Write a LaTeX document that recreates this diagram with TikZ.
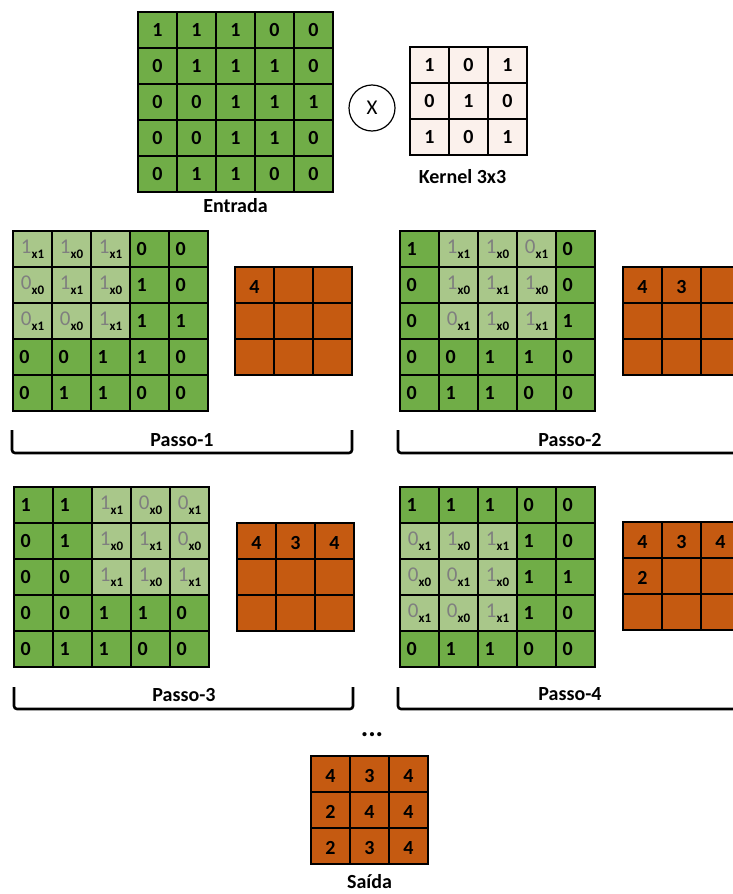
\documentclass[tikz,border=0pt]{standalone}
\usepackage{fontspec}
\setmainfont{Carlito}
\usetikzlibrary{positioning}

\definecolor{ingreen}{HTML}{70AD47}
\definecolor{wingreen}{HTML}{A9C78A}
\definecolor{outorange}{HTML}{C55A11}
\definecolor{kerfill}{HTML}{FBF1EC}
\definecolor{subgray}{HTML}{7F7F7F}

% values of the input, the kernel and the output
\def\entvals{{1,1,1,0,0, 0,1,1,1,0, 0,0,1,1,1, 0,0,1,1,0, 0,1,1,0,0}}
\def\kervals{{1,0,1, 0,1,0, 1,0,1}}
\def\saivals{{4,3,4, 2,4,4, 2,3,4}}

% value inside the 3x3 window, with its kernel weight
\newcommand{\winnum}[2]{\textcolor{subgray}{\mdseries\fontsize{21}{21}\selectfont #1}\raisebox{-5pt}{\bfseries\fontsize{13}{13}\selectfont x#2}}

% 5x5 input of one step: name, left, top, window row, window column
\newcommand{\passogrid}[5]{%
  \foreach \ri in {0,...,4}{
    \foreach \ci in {0,...,4}{
      \pgfmathtruncatemacro\idx{\ri*5+\ci}
      \pgfmathtruncatemacro\val{\entvals[\idx]}
      \pgfmathtruncatemacro\inw{(\ri>=#4)*(\ri<#4+3)*(\ci>=#5)*(\ci<#5+3)}
      \ifnum\inw=1
        \pgfmathtruncatemacro\kidx{(\ri-#4)*3+\ci-#5}
        \pgfmathtruncatemacro\kw{\kervals[\kidx]}
        \node[wincell] (#1-\ri-\ci) at (#2+\ci*39+19.5,#3+\ri*36+18) {\winnum{\val}{\kw}};
      \else
        \node[incell] (#1-\ri-\ci) at (#2+\ci*39+19.5,#3+\ri*36+18) {\val};
      \fi
    }
  }
}

% 3x3 output: name, left, top, number of values already computed
\newcommand{\saidagrid}[4]{%
  \foreach \ri in {0,1,2}{
    \foreach \ci in {0,1,2}{
      \pgfmathtruncatemacro\idx{\ri*3+\ci}
      \ifnum\idx<#4
        \pgfmathtruncatemacro\val{\saivals[\idx]}
      \else
        \def\val{}
      \fi
      \node[outcell] (#1-\ri-\ci) at (#2+\ci*39+19.5,#3+\ri*36+18) {\val};
    }
  }
}

\begin{document}
\begin{tikzpicture}[
    x=1pt, y=-1pt,
    cell/.style={draw,line width=1.4pt,minimum width=39pt,minimum height=36pt,inner sep=0pt,
      font=\bfseries\fontsize{20}{20}\selectfont},
    entcell/.style={cell,fill=ingreen},
    incell/.style={cell,fill=ingreen,text width=26pt,inner xsep=6.5pt,align=left},
    wincell/.style={cell,fill=wingreen},
    outcell/.style={cell,fill=outorange,text height=16pt,text depth=0pt},
    kercell/.style={cell,fill=kerfill},
    lbl/.style={inner sep=0pt,font=\bfseries\fontsize{20}{20}\selectfont},
    brak/.style={line width=2.6pt,rounded corners=3pt}
]
\clip (0,0) rectangle (733,894);

% input and kernel
\foreach \ri in {0,...,4}{
  \foreach \ci in {0,...,4}{
    \pgfmathtruncatemacro\idx{\ri*5+\ci}
    \pgfmathtruncatemacro\val{\entvals[\idx]}
    \node[entcell] (ent-\ri-\ci) at (138+\ci*39+19.5,12+\ri*36+18) {\val};
  }
}
\node[lbl,below=6pt of ent-4-2] (entrada) {Entrada};

\node[circle,draw,line width=1.2pt,minimum size=46pt,inner sep=0pt,
  font=\fontsize{21}{21}\selectfont] (mult) at (372,108) {X};

\foreach \ri in {0,1,2}{
  \foreach \ci in {0,1,2}{
    \pgfmathtruncatemacro\idx{\ri*3+\ci}
    \pgfmathtruncatemacro\val{\kervals[\idx]}
    \node[kercell] (ker-\ri-\ci) at (410+\ci*39+19.5,47+\ri*36+18) {\val};
  }
}
\node[lbl,below=14pt of ker-2-1,xshift=-6pt] (kernel) {Kernel 3x3};

% steps
\passogrid{pa}{13}{231}{0}{0}
\saidagrid{sa}{235}{267}{1}
\draw[brak] (12,430) |- (352,453) -- (352,430);
\node[lbl] (passo1) at (182,440) {Passo-1};

\passogrid{pb}{400}{231}{0}{1}
\saidagrid{sb}{623}{267}{2}
\draw[brak] (398,430) |- (760,453);
\node[lbl] (passo2) at (570,440) {Passo-2};

\passogrid{pc}{14}{487}{0}{2}
\saidagrid{sc}{237}{523}{3}
\draw[brak] (14,687) |- (353,709) -- (353,687);
\node[lbl] (passo3) at (184,695) {Passo-3};

\passogrid{pd}{400}{487}{1}{0}
\saidagrid{sd}{623}{522}{4}
\draw[brak] (398,687) |- (760,709);
\node[lbl] (passo4) at (570,694) {Passo-4};

% result
\node[inner sep=0pt,font=\bfseries\fontsize{28}{28}\selectfont] (dots) at (372,735) {...};
\saidagrid{out}{311}{756}{9}
\node[lbl,below=10pt of out-2-1] (saida) {Saída};
\end{tikzpicture}
\end{document}
